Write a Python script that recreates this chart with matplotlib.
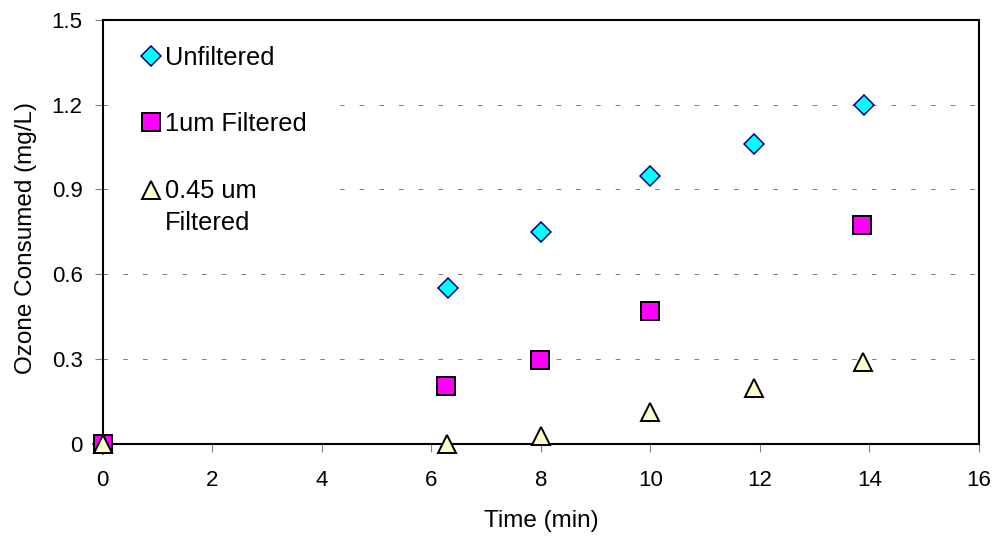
import matplotlib
matplotlib.use("Agg")
import matplotlib.pyplot as plt
from matplotlib.legend_handler import HandlerLine2D

plt.rcParams['font.family'] = ['Liberation Sans', 'DejaVu Sans']

# data
time_unf = [0, 6.3, 8.0, 10.0, 11.9, 13.9]
oz_unf = [0, 0.55, 0.75, 0.947, 1.06, 1.2]

time_1um = [0, 6.27, 7.98, 10.0, 13.87]
oz_1um = [0, 0.202, 0.297, 0.471, 0.775]

time_045 = [0, 6.29, 8.0, 10.0, 11.89, 13.89]
oz_045 = [0, 0.0, 0.028, 0.112, 0.198, 0.289]

xticks = [0, 2, 4, 6, 8, 10, 12, 14, 16]
yticks = [0, 0.3, 0.6, 0.9, 1.2, 1.5]
ylabels = ["0", "0.3", "0.6", "0.9", "1.2", "1.5"]

fig = plt.figure(figsize=(9.95, 5.4), dpi=100)
ax = fig.add_axes([0.1032, 0.1787, 0.8807, 0.7843])

l1, = ax.plot(time_unf, oz_unf, linestyle='none', marker='D', markersize=10,
              markerfacecolor='#00FFFF', markeredgecolor='#000080', markeredgewidth=1.1,
              clip_on=False, zorder=3, label='Unfiltered')
l2, = ax.plot(time_1um, oz_1um, linestyle='none', marker='s', markersize=13,
              markerfacecolor='#FF00FF', markeredgecolor='black', markeredgewidth=1.4,
              clip_on=False, zorder=4, label='1um Filtered')
l3, = ax.plot(time_045, oz_045, linestyle='none', marker='^', markersize=13.5,
              markerfacecolor='#FFFFCC', markeredgecolor='black', markeredgewidth=1.4,
              clip_on=False, zorder=5, label='0.45 um\nFiltered')

ax.set_xlim(0, 16)
ax.set_ylim(0, 1.5)
ax.set_xticks(xticks)
ax.set_yticks(yticks)
ax.set_yticklabels(ylabels)

# dashed horizontal grid
ax.set_axisbelow(True)
ax.yaxis.grid(True, color='#808080', linestyle=(0, (4.7, 15)), linewidth=0.72)

for s in ax.spines.values():
    s.set_linewidth(1.5)
    s.set_color('black')

ax.tick_params(axis='both', direction='out', length=6, width=0.8,
               color='#808080', labelsize=16, labelcolor='black')
ax.tick_params(axis='x', pad=13)
ax.tick_params(axis='y', pad=8.5)

ax.set_xlabel('Time (min)', fontsize=17.5)
ax.set_ylabel('Ozone Consumed (mg/L)', fontsize=17.5)
ax.xaxis.set_label_coords(0.5, -0.157)
ax.yaxis.set_label_coords(-0.075, 0.486)


# triangle sits next to the first line of its two-line label
def raise_marker(handle, orig):
    handle.update_from(orig)
    handle.set_ydata(handle.get_ydata() + 12.5)


leg = ax.legend(loc='upper left', bbox_to_anchor=(0.0203, 0.9867), fontsize=18.3,
                frameon=True, fancybox=False, framealpha=1, facecolor='white',
                edgecolor='none', handlelength=0.8, handletextpad=0.15,
                labelspacing=1.67, borderpad=0.8, borderaxespad=0,
                handler_map={l3: HandlerLine2D(update_func=raise_marker)})
leg.get_texts()[2].set_linespacing(1.42)

plt.savefig('out.png', dpi=100)
